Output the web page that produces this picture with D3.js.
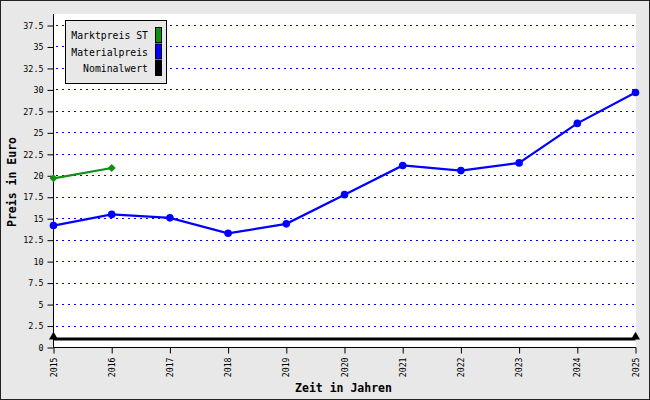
<!DOCTYPE html>
<html><head><meta charset="utf-8">
<script src="https://cdn.jsdelivr.net/npm/d3@7"></script>
<style>body{margin:0;background:#fff}svg{display:block}</style>
</head><body>
<svg id="c" width="650" height="400"></svg>
<script>
const years = [2015,2016,2017,2018,2019,2020,2021,2022,2023,2024,2025];
const marktpreis = [19.7, 20.9];
const marktYears = [2015, 2016];
const materialpreis = [14.2, 15.5, 15.1, 13.3, 14.4, 17.8, 21.2, 20.6, 21.5, 26.1, 29.7];
const nominalwert = [1, 1];
const nominalYears = [2015, 2025];
const yTicks = [0,2.5,5,7.5,10,12.5,15,17.5,20,22.5,25,27.5,30,32.5,35,37.5];
const seriesNames = ["Marktpreis ST","Materialpreis","Nominalwert"];
const seriesColors = ["#109010","#0000ff","#000000"];

const svg = d3.select("#c");
const font = "'DejaVu Sans Mono', monospace";
svg.append("rect").attr("x",0.5).attr("y",0.5).attr("width",649).attr("height",399)
  .attr("fill","#e8e8e8").attr("stroke","#222").attr("stroke-width",1);

const x = d3.scaleLinear().domain([2015,2025]).range([53.5,635.5]);
const y = d3.scaleLinear().domain([0,37.5]).range([347.5,25.5]);

svg.append("rect").attr("x",54).attr("y",14).attr("width",582).attr("height",333).attr("fill","#fff");

// grid
svg.append("g").selectAll("line").data(yTicks.filter(d=>d>0)).join("line")
  .attr("x1",56).attr("x2",634).attr("y1",d=>Math.round(y(d)-0.5)+0.5).attr("y2",d=>Math.round(y(d)-0.5)+0.5)
  .attr("stroke","#0000ff").attr("stroke-width",1).attr("stroke-dasharray","2,4");

// y axis
const ya = svg.append("g").attr("transform","translate(53.5,0)")
  .call(d3.axisLeft(y).tickValues(yTicks).tickSize(6).tickPadding(4).tickFormat(d=>String(d)));
ya.select(".domain").remove();
ya.append("line").attr("x1",0).attr("x2",0).attr("y1",14).attr("y2",347.5).attr("stroke","#000");
ya.selectAll("text").attr("font-family",font).attr("font-size","8.4px").attr("fill","#000");
ya.selectAll(".tick line").attr("stroke","#000");

// x axis
const xa = svg.append("g").attr("transform","translate(0,347.5)")
  .call(d3.axisBottom(x).tickValues(years).tickSize(6).tickFormat(d=>String(d)));
xa.select(".domain").attr("d","M53.5,0H636").attr("stroke","#000");
xa.selectAll(".tick line").attr("stroke","#000");
xa.selectAll("text").attr("font-family",font).attr("font-size","8.2px").attr("fill","#000")
  .attr("transform","rotate(-90)").attr("text-anchor","end").attr("x",-10).attr("y",0).attr("dy","0.32em");

// titles
svg.append("text").attr("x",343.5).attr("y",392).attr("text-anchor","middle")
  .attr("font-family",font).attr("font-weight","bold").attr("font-size","11.5px").text("Zeit in Jahren");
svg.append("text").attr("transform","translate(16,182) rotate(-90)").attr("text-anchor","middle")
  .attr("font-family",font).attr("font-weight","bold").attr("font-size","11.5px").text("Preis in Euro");

const line = d3.line().x(d=>x(d[0])).y(d=>y(d[1]));

// nominal
const nomData = nominalYears.map((yr,i)=>[yr,nominalwert[i]]);
svg.append("path").attr("d",line(nomData)).attr("fill","none").attr("stroke","#000").attr("stroke-width",3);
svg.append("g").selectAll("path").data(nomData).join("path")
  .attr("d",d3.symbol(d3.symbolTriangle,36)).attr("transform",d=>`translate(${x(d[0])},${y(d[1])-2})`).attr("fill","#000");

// material
const matData = years.map((yr,i)=>[yr,materialpreis[i]]);
svg.append("path").attr("d",line(matData)).attr("fill","none").attr("stroke","#0000ff").attr("stroke-width",2.2);
svg.append("g").selectAll("circle").data(matData).join("circle")
  .attr("cx",d=>x(d[0])).attr("cy",d=>y(d[1])).attr("r",3.8).attr("fill","#0000ff");

// markt
const mkData = marktYears.map((yr,i)=>[yr,marktpreis[i]]);
svg.append("path").attr("d",line(mkData)).attr("fill","none").attr("stroke","#109010").attr("stroke-width",2.2);
svg.append("g").selectAll("path").data(mkData).join("path")
  .attr("d",d3.symbol(d3.symbolSquare,32)).attr("transform",d=>`translate(${x(d[0])},${y(d[1])}) rotate(45)`).attr("fill","#109010");

// legend
const lg = svg.append("g");
lg.append("rect").attr("x",65.5).attr("y",20.5).attr("width",101).attr("height",63)
  .attr("fill","#e8e8e8").attr("stroke","#000");
seriesNames.forEach((n,i)=>{
  const cy = 36 + i*16.5;
  lg.append("text").attr("x",148).attr("y",cy).attr("dy","0.35em").attr("text-anchor","end")
    .attr("font-family",font).attr("font-size","9.8px").attr("fill","#000").text(n);
  lg.append("rect").attr("x",155.5).attr("y",cy-8.5).attr("width",6).attr("height",15)
    .attr("fill",seriesColors[i]).attr("stroke","#000");
});
</script>
</body></html>
